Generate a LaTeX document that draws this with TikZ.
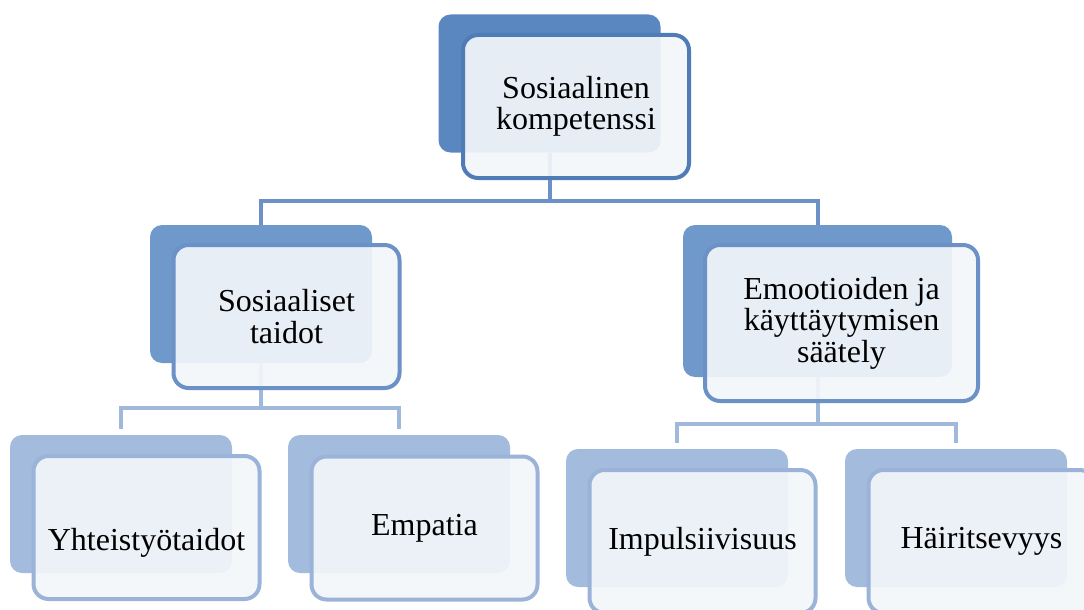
\documentclass[tikz,border=0pt]{standalone}
\usepackage{fontspec}
\setmainfont{Liberation Serif}
\usetikzlibrary{positioning}

\definecolor{backA}{HTML}{5B87C1}
\definecolor{backB}{HTML}{7099CB}
\definecolor{backC}{HTML}{A3BCDD}
\definecolor{edgeA}{HTML}{4F7BB7}
\definecolor{edgeB}{HTML}{6B91C6}
\definecolor{edgeC}{HTML}{9BB3D8}
\definecolor{lineA}{HTML}{6B91C6}
\definecolor{lineC}{HTML}{A0B9DB}
\definecolor{frontfill}{HTML}{F3F6FA}

\tikzset{
  back/.style={rectangle, rounded corners=12pt, inner sep=0pt,
    minimum width=222pt, minimum height=138pt},
  front/.style={rectangle, rounded corners=15pt, inner sep=0pt, line width=4pt,
    fill=frontfill, fill opacity=0.92, text opacity=1, align=center,
    minimum width=226pt, minimum height=143pt,
    font=\fontsize{32}{31.5}\selectfont},
  link/.style={line width=4pt},
}

\begin{document}
\begin{tikzpicture}[x=1pt, y=-1pt]
  \useasboundingbox (0,0) rectangle (1084,610);
  \clip (0,0) rectangle (1084,610);
  % back plates
  \node[back, fill=backA] (komp-b) at (549.5,83.5) {};
  \node[back, fill=backB] (sos-b) at (261,294) {};
  \node[back, fill=backB, minimum width=269pt, minimum height=152pt] (emo-b) at (817.5,301) {};
  \node[back, fill=backC] (yht-b) at (121,504) {};
  \node[back, fill=backC] (emp-b) at (399,504) {};
  \node[back, fill=backC] (imp-b) at (677,518) {};
  \node[back, fill=backC] (hai-b) at (956,518) {};
  % connectors
  \draw[link, lineA] (komp-b.south) -- ++(0,48) -| (sos-b.north);
  \draw[link, lineA] (komp-b.south) -- ++(0,48) -| (emo-b.north);
  \draw[link, lineC, shorten >=6pt] (sos-b.south) -- ++(0,45) -| (yht-b.north);
  \draw[link, lineC, shorten >=6pt] (sos-b.south) -- ++(0,45) -| (emp-b.north);
  \draw[link, lineC, shorten >=6pt] (emo-b.south) -- ++(0,47) -| (imp-b.north);
  \draw[link, lineC, shorten >=6pt] (emo-b.south) -- ++(0,47) -| (hai-b.north);
  % front boxes
  \node[front, draw=edgeA] (komp) at (576,106.5) {Sosiaalinen\\kompetenssi};
  \node[front, draw=edgeB] (sos) at (286.5,316.5) {Sosiaaliset\\taidot};
  \node[front, draw=edgeB, minimum width=273pt, minimum height=156pt] (emo) at (841.5,323)
    {Emootioiden ja\\käyttäytymisen\\säätely};
  \node[front, draw=edgeC, text height=53pt] (yht) at (146.5,527.5) {Yhteistyötaidot};
  \node[front, draw=edgeC] (emp) at (424.5,528) {Empatia};
  \node[front, draw=edgeC] (imp) at (702.5,541.5) {Impulsiivisuus};
  \node[front, draw=edgeC] (hai) at (981.5,541.5) {Häiritsevyys};
\end{tikzpicture}
\end{document}
